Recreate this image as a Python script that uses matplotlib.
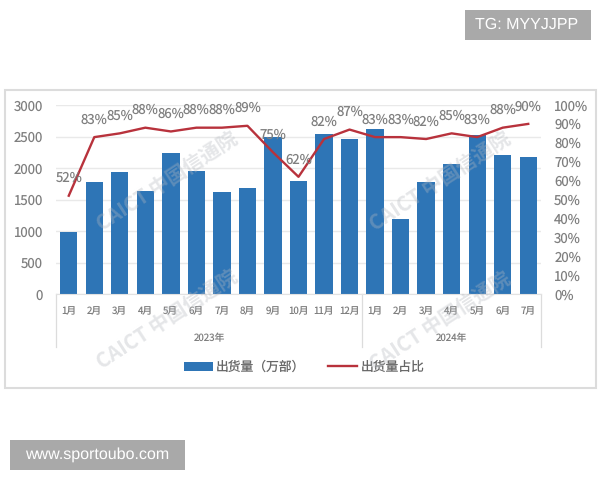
import matplotlib
matplotlib.use("Agg")
import matplotlib.pyplot as plt
from matplotlib.patches import Rectangle

plt.rcParams['font.family'] = ['Noto Sans CJK SC', 'DejaVu Sans']
plt.rcParams['text.hinting'] = 'none'

months = ["1月", "2月", "3月", "4月", "5月", "6月", "7月", "8月", "9月", "10月", "11月", "12月",
          "1月", "2月", "3月", "4月", "5月", "6月", "7月"]
years = ["2023年", "2024年"]
year_counts = [12, 7]
shipments = [990, 1770, 1930, 1640, 2240, 1960, 1625, 1690, 2490, 1800, 2540, 2460,
             2620, 1190, 1770, 2060, 2530, 2210, 2180]
share = [52, 83, 85, 88, 86, 88, 88, 89, 75, 62, 82, 87, 83, 83, 82, 85, 83, 88, 90]

W, H = 600, 480
GRAY = "#7f7f7f"


def fx(px):
    return px / W


def fy(py):
    return 1 - py / H


fig = plt.figure(figsize=(6, 4.8), dpi=100, facecolor="white")

# outer frame of the pasted chart, under the axes
fig.add_artist(Rectangle((fx(5), fy(388)), fx(591), 298 / H, transform=fig.transFigure,
                         fc="white", ec="#dcdcdc", lw=1.5, zorder=-1))

ax = fig.add_axes([fx(56), fy(294), fx(485), 189 / H])
ax.patch.set_alpha(0)
x = list(range(len(months)))
bars = ax.bar(x, shipments, width=0.68, color="#2e75b6", label="出货量（万部）", zorder=2)
ax.set_xlim(-0.5, len(months) - 0.5)
ax.set_ylim(0, 3000)
ax.set_yticks(range(0, 3001, 500))
ax.tick_params(axis="y", length=0, labelsize=9.5, labelcolor=GRAY, pad=9.5)
ax.tick_params(axis="x", length=0, labelsize=7, labelcolor=GRAY, pad=9)
ax.set_xticks(x)
ax.set_xticklabels(months)
ax.grid(axis="y", color="#e9e9e9", lw=1)
ax.set_axisbelow(True)
for s in ["top", "left", "right"]:
    ax.spines[s].set_visible(False)
ax.spines["bottom"].set_color("#e2e2e2")

ax2 = ax.twinx()
line, = ax2.plot(x, share, color="#b8323c", lw=1.7, label="出货量占比", zorder=3)
ax2.set_ylim(0, 100)
ax2.set_yticks(range(0, 101, 10))
ax2.set_yticklabels([f"{v}%" for v in range(0, 101, 10)])
ax2.tick_params(axis="y", length=0, labelsize=9.5, labelcolor=GRAY, pad=9.5)
for s in ax2.spines.values():
    s.set_visible(False)

for i, v in zip(x, share):
    ax2.annotate(f"{v}%", (i, v), xytext=(0, 12.5), textcoords="offset points",
                 ha="center", va="center", fontsize=9.5, color=GRAY, zorder=4)

# two level category axis
trans = ax.get_xaxis_transform()
start = 0
edges = [-0.5]
for name, n in zip(years, year_counts):
    ax.text(start + (n - 1) / 2, -44 / 189, name, transform=trans, ha="center", va="center",
            fontsize=7, color=GRAY)
    start += n
    edges.append(start - 0.5)
for e in edges:
    ax.plot([e, e], [0, -53 / 189], transform=trans, color="#dcdcdc", lw=0.9, clip_on=False)

fig.legend([bars, line], ["出货量（万部）", "出货量占比"], loc="center",
           bbox_to_anchor=(fx(304), fy(367)), ncol=2, frameon=False, fontsize=9.2,
           labelcolor="#666666", handlelength=2.3, handleheight=0.7, columnspacing=1.75,
           handletextpad=0.25)

# watermarks
for px, py in [(167, 182), (167, 320), (440, 182), (440, 322)]:
    fig.text(fx(px), fy(py), "CAICT 中国信通院", rotation=33, rotation_mode="anchor",
             ha="center", va="center", fontsize=14.5, fontweight="bold", color="#b4b8bf",
             alpha=0.35, zorder=10)

# site stamps
fig.add_artist(Rectangle((fx(465), fy(40)), fx(126), 30 / H, transform=fig.transFigure,
                         fc="#a9a9a9", ec="none"))
fig.text(fx(527), fy(25), "TG: MYYJJPP", ha="center", va="center", fontsize=11.5, color="white",
         family="Liberation Sans")
fig.add_artist(Rectangle((fx(10), fy(470)), fx(175), 30 / H, transform=fig.transFigure,
                         fc="#a9a9a9", ec="none"))
fig.text(fx(97.5), fy(455), "www.sportoubo.com", ha="center", va="center", fontsize=11.5, color="white",
         family="Liberation Sans")

fig.savefig("out.png", dpi=100)
